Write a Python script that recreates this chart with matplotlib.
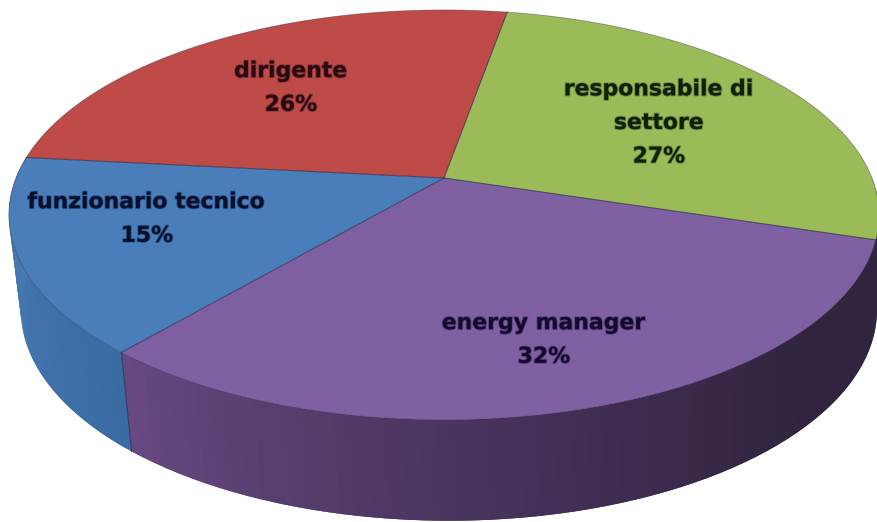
import numpy as np
import matplotlib
matplotlib.use("Agg")
import matplotlib.pyplot as plt
import matplotlib.patheffects as pe
from matplotlib.collections import PolyCollection
from matplotlib.colors import to_rgb

categories = ["responsabile di\nsettore", "energy manager", "funzionario tecnico", "dirigente"]
values = [27.0, 31.5, 15.4, 26.1]
top_colors = ["#9BBB59", "#7F60A3", "#4A7EBB", "#BE4B48"]
wall_left = {1: "#674882", 2: "#4A7DB5"}
wall_right = {1: "#30243F", 2: "#3B6BA3"}
text_colors = ["#0E2008", "#140A30", "#06102E", "#2A0A12"]
label_pos = [(659, 123), (544, 340), (147, 219), (291, 88)]

START = 80.0
K = 0.18

def rim(theta):
    t = np.radians(theta)
    u, v = np.cos(t), np.sin(t)
    w = 1 + K * v
    return 444 + 428 * u / w, 178 - 198.3 * v / w

def base(theta):
    x, y = rim(theta)
    return 449 + (x - 444) * 428 / 435, 310 + (y - 215) * 211 / 205

fig = plt.figure(figsize=(8.78, 5.22), dpi=100, facecolor="white")
ax = fig.add_axes([0, 0, 1, 1])
ax.set_xlim(0, 878)
ax.set_ylim(522, 0)
ax.axis("off")

edges = START - np.cumsum([0] + values) * 3.6

# side walls, built from the same slice angles
for i in (1, 2):
    a0, a1 = edges[i], edges[i + 1]
    if i == 1:
        a0 += 17  # carry the wall round to the hidden side of the rim
    th = np.linspace(a0, a1, 70)
    xr, yr = rim(th)
    xb, yb = base(th)
    n = len(th) - 1
    polys = []
    for j in range(n):
        e = min(j + 2, n)
        polys.append([(xr[j], yr[j]), (xr[e], yr[e]), (xb[e], yb[e]), (xb[j], yb[j])])
    c0, c1 = np.array(to_rgb(wall_right[i])), np.array(to_rgb(wall_left[i]))
    f = np.linspace(0, 1, n)[:, None]
    if i == 1:
        f = np.clip((f - 0.3) / 0.7, 0, 1) ** 1.3
    cols = c0 + (c1 - c0) * f
    ax.add_collection(PolyCollection(polys, facecolors=cols, edgecolors="none", zorder=1))

# seam on the front of the wall
xr, yr = rim(edges[2])
xb, yb = base(edges[2])
ax.plot([xr, xb], [yr, yb], color="#2F3F60", lw=0.8, zorder=2)

# top faces
apex = (444, 178)
for i, c in enumerate(top_colors):
    th = np.linspace(edges[i], edges[i + 1], 160)
    x, y = rim(th)
    ax.fill(np.r_[apex[0], x], np.r_[apex[1], y], facecolor=c, edgecolor="none", zorder=3)
    ax.plot([apex[0], x[0]], [apex[1], y[0]], color="#3A3550", lw=0.8, alpha=0.8, zorder=4)
    ax.plot(x, y, color="#3A3550", lw=0.6, alpha=0.45, zorder=4)

for cat, val, pos, tc in zip(categories, values, label_pos, text_colors):
    ax.text(pos[0], pos[1], f"{cat}\n{val:.0f}%", ha="center", va="center", ma="center",
            family="DejaVu Sans", weight="bold", fontsize=15.8, color=tc, linespacing=1.85, zorder=5,
            path_effects=[pe.withStroke(linewidth=1.4, foreground=tc, alpha=0.3)])

fig.savefig("out.png", dpi=100, facecolor="white")
